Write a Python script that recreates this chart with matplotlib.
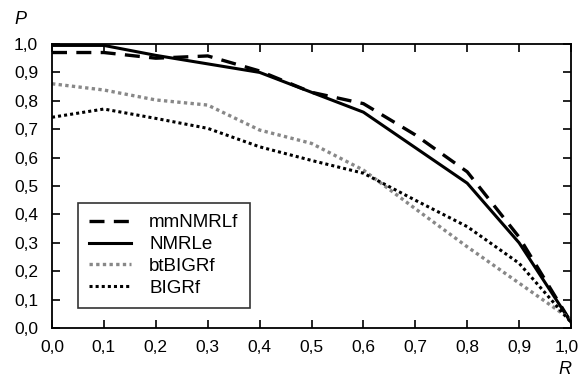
import numpy as np
import matplotlib
matplotlib.use('Agg')
import matplotlib.pyplot as plt
import matplotlib.transforms as mtransforms

plt.rcParams['font.family'] = ['Liberation Sans', 'DejaVu Sans']

recall = [0.0, 0.1, 0.2, 0.3, 0.4, 0.5, 0.6, 0.7, 0.8, 0.9, 1.0]
mmNMRLf = [0.97, 0.97, 0.95, 0.958, 0.905, 0.83, 0.79, 0.68, 0.55, 0.32, 0.02]
NMRLe = [0.995, 0.995, 0.96, 0.93, 0.90, 0.83, 0.76, 0.635, 0.51, 0.30, 0.02]
btBIGRf = [0.86, 0.838, 0.803, 0.785, 0.697, 0.65, 0.556, 0.42, 0.286, 0.158, 0.03]
BIGRf = [0.742, 0.771, 0.738, 0.703, 0.638, 0.59, 0.545, 0.45, 0.357, 0.228, 0.02]
ticks = [0.0, 0.1, 0.2, 0.3, 0.4, 0.5, 0.6, 0.7, 0.8, 0.9, 1.0]
tick_labels = ['0,0', '0,1', '0,2', '0,3', '0,4', '0,5', '0,6', '0,7', '0,8', '0,9', '1,0']

fig = plt.figure(figsize=(5.81, 3.77), dpi=100)
ax = fig.add_axes([52/581, 1-328/377, (571-52)/581, (328-44)/377])

ax.plot(recall, mmNMRLf, color='black', lw=2.4, dashes=(4.5, 2.8), dash_capstyle='butt', label='mmNMRLf')
ax.plot(recall, NMRLe, color='black', lw=2.2, label='NMRLe')
ax.plot(recall, btBIGRf, color='#888888', lw=2.4, dashes=(1, 1), dash_capstyle='butt', label='btBIGRf')
ax.plot(recall, BIGRf, color='black', lw=2.2, dashes=(1, 1), dash_capstyle='butt', label='BIGRf')

ax.set_xlim(0, 1)
ax.set_ylim(0, 1)
ax.set_xticks(ticks)
ax.set_xticklabels(tick_labels)
ax.set_yticks(ticks)
ax.set_yticklabels(tick_labels)
ax.tick_params(direction='in', top=True, right=True, length=6, width=1.2, labelsize=12.5, pad=9)
ax.tick_params(axis='y', pad=10)
for s in ax.spines.values():
    s.set_linewidth(1.3)

# last x label sits at the right edge, nudge it in a bit
last = ax.get_xticklabels()[-1]
last.set_transform(last.get_transform() + mtransforms.ScaledTranslation(-3/72, 0, fig.dpi_scale_trans))

fig.text(14/581, 1-20/377, 'P', fontsize=13, style='italic', ha='left', va='center')
fig.text(565/581, 1-370/377, 'R', fontsize=13, style='italic', ha='center', va='center')

leg = ax.legend(loc='lower left', bbox_to_anchor=(26/519, 20/284), frameon=True, fancybox=False,
                edgecolor='black', fontsize=13.5, handlelength=2.2, handletextpad=1.0,
                labelspacing=0.25, borderpad=0.6, borderaxespad=0)
leg.get_frame().set_linewidth(1.2)

fig.savefig('out.png', dpi=100)
